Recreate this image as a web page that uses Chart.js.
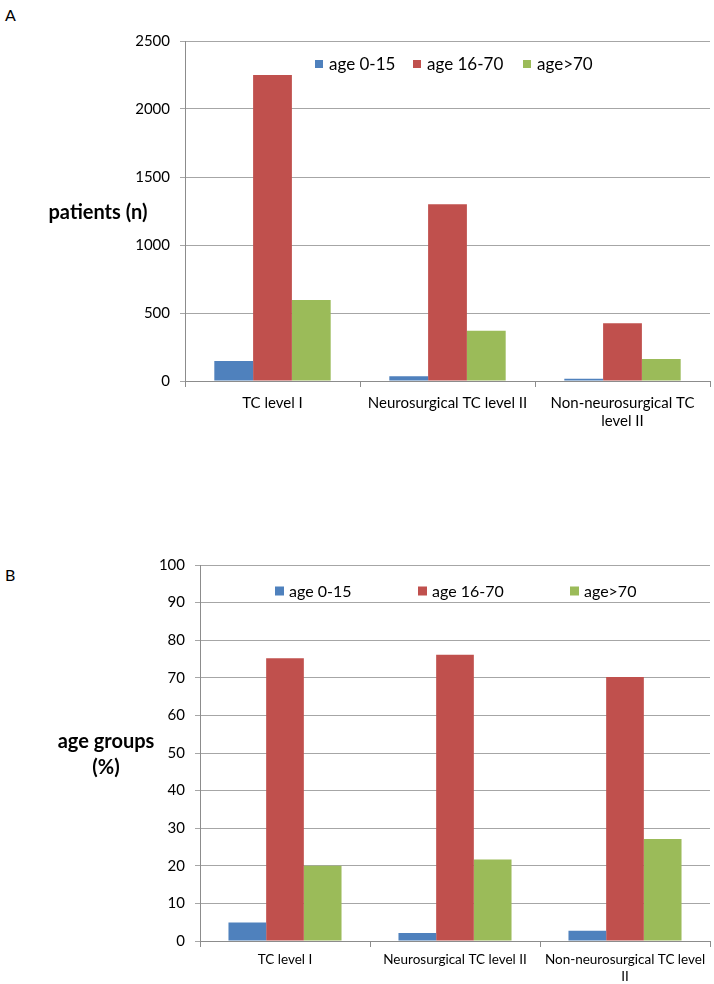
<!DOCTYPE html>
<html>
<head>
<meta charset="utf-8">
<script src="https://cdn.jsdelivr.net/npm/chart.js@4"></script>
<style>
  body { margin: 0; background: #fff; width: 714px; height: 984px; position: relative; font-family: Lato, sans-serif; }
  .panel { position: absolute; font-size: 16px; color: #000; }
  .box { position: absolute; left: 0; width: 714px; }
</style>
</head>
<body>
<div class="panel" style="left:5px;top:5px">A</div>
<div class="panel" style="left:5px;top:565px">B</div>
<div class="box" style="top:0;height:431px"><canvas id="chartA"></canvas></div>
<div class="box" style="top:540px;height:444px"><canvas id="chartB"></canvas></div>
<script>
const seriesNames = ['age 0-15', 'age 16-70', 'age>70'];
const seriesColors = ['#4F81BD', '#C0504D', '#9BBB59'];

const categoriesA = [['TC level I'], ['Neurosurgical TC level II'], ['Non-neurosurgical TC', 'level II']];
const patients0to15 = [147, 35, 17];
const patients16to70 = [2250, 1300, 424];
const patientsOver70 = [596, 370, 162];
const ticksA = [0, 500, 1000, 1500, 2000, 2500];

const categoriesB = [['TC level I'], ['Neurosurgical TC level II'], ['Non-neurosurgical TC level', 'II']];
const percent0to15 = [4.9, 2.1, 2.7];
const percent16to70 = [75.2, 76.1, 70.2];
const percentOver70 = [20.0, 21.7, 27.1];
const ticksB = [0, 10, 20, 30, 40, 50, 60, 70, 80, 90, 100];

// horizontal y-axis title, Excel style
const sideTitle = {
    id: 'sideTitle',
    afterDraw(chart, args, opts) {
        const c = chart.ctx;
        c.save();
        c.font = 'bold 20px Lato';
        c.fillStyle = '#000';
        c.textAlign = 'center';
        c.textBaseline = 'middle';
        opts.lines.forEach((t, i) => c.fillText(t, opts.x, opts.y + i * 26));
        c.restore();
    }
};

// legend sitting inside the plot area
const insideLegend = {
    id: 'insideLegend',
    afterDraw(chart, args, opts) {
        const c = chart.ctx;
        c.save();
        c.font = opts.size + 'px Lato';
        c.textBaseline = 'middle';
        chart.data.datasets.forEach((ds, i) => {
            const x = opts.x[i];
            c.fillStyle = ds.backgroundColor;
            c.fillRect(x, opts.y - opts.box / 2, opts.box, opts.box);
            c.fillStyle = '#000';
            c.fillText(ds.label, x + 14, opts.y + 1);
        });
        c.restore();
    }
};

function makeDatasets(values) {
    return values.map((data, i) => ({
        label: seriesNames[i],
        data,
        backgroundColor: seriesColors[i],
        categoryPercentage: 0.665,
        barPercentage: 1.0
    }));
}

function makeOptions(cfg) {
    return {
        responsive: true,
        maintainAspectRatio: false,
        animation: false,
        layout: { padding: { top: cfg.top, right: 4, left: 0, bottom: 0 } },
        plugins: {
            legend: { display: false },
            tooltip: { enabled: false },
            sideTitle: cfg.title,
            insideLegend: cfg.legend
        },
        scales: {
            x: {
                grid: { drawOnChartArea: false, drawTicks: true, tickLength: 6, color: '#8c8c8c' },
                border: { color: '#8c8c8c' },
                ticks: { color: '#000', font: { family: 'Lato', size: cfg.xSize }, padding: cfg.xPad, maxRotation: 0, autoSkip: false },
                afterFit(s) { s.height = cfg.xHeight; }
            },
            y: {
                min: cfg.ticks[0],
                max: cfg.ticks[cfg.ticks.length - 1],
                afterBuildTicks(s) { s.ticks = cfg.ticks.map(v => ({ value: v })); },
                grid: { color: '#a6a6a6', tickLength: 5 },
                border: { color: '#8c8c8c' },
                ticks: { color: '#000', font: { family: 'Lato', size: 15 }, padding: 10, callback: v => String(v) },
                afterFit(s) { s.width = cfg.yWidth; }
            }
        }
    };
}

new Chart(document.getElementById('chartA'), {
    type: 'bar',
    data: { labels: categoriesA, datasets: makeDatasets([patients0to15, patients16to70, patientsOver70]) },
    options: makeOptions({
        ticks: ticksA, yWidth: 185, xHeight: 50, top: 41, xSize: 15, xPad: 7,
        title: { lines: ['patients (n)'], x: 98, y: 213 },
        legend: { x: [315, 413, 523], y: 64, box: 8, size: 17 }
    }),
    plugins: [sideTitle, insideLegend]
});

new Chart(document.getElementById('chartB'), {
    type: 'bar',
    data: { labels: categoriesB, datasets: makeDatasets([percent0to15, percent16to70, percentOver70]) },
    options: makeOptions({
        ticks: ticksB, yWidth: 200, xHeight: 43, top: 25, xSize: 13.5, xPad: 5,
        title: { lines: ['age groups', '(%)'], x: 106, y: 202 },
        legend: { x: [275, 418, 570], y: 51, box: 9, size: 16 }
    }),
    plugins: [sideTitle, insideLegend]
});
</script>
</body>
</html>
